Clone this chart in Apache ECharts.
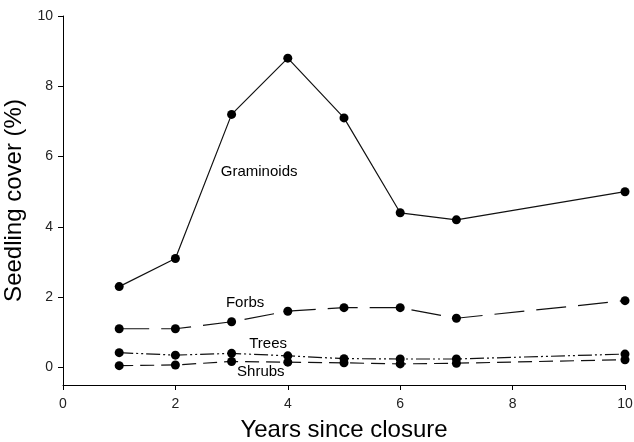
<!DOCTYPE html>
<html>
<head>
<meta charset="utf-8">
<script src="https://cdn.jsdelivr.net/npm/echarts@6/dist/echarts.min.js"></script>
<style>
  html, body { margin: 0; padding: 0; background: #fff; }
  #chart { width: 634px; height: 442px; }
</style>
</head>
<body>
<div id="chart"></div>
<script>
// Years since closure (sampling years)
const years = [1, 2, 3, 4, 5, 6, 7, 10];

// Seedling cover (%) by growth form
const graminoids = [2.3, 3.1, 7.2, 8.8, 7.1, 4.4, 4.2, 5.0];
const forbs      = [1.1, 1.1, 1.3, 1.6, 1.7, 1.7, 1.4, 1.9];
const trees      = [0.42, 0.35, 0.40, 0.33, 0.25, 0.24, 0.24, 0.38];
const shrubs     = [0.05, 0.07, 0.17, 0.15, 0.13, 0.10, 0.12, 0.22];

// Tick labels
const xTicks = [0, 2, 4, 6, 8, 10];
const yTicks = [0, 2, 4, 6, 8, 10];

// Inline series labels: [text, x, y] in data units
const seriesLabels = [
  ['Graminoids', 3.49, 5.56],
  ['Forbs', 3.24, 1.85],
  ['Trees', 3.65, 0.68],
  ['Shrubs', 3.52, -0.14]
];

const FONT = '"Liberation Sans", Arial, sans-serif';
const pair = arr => years.map((x, i) => [x, arr[i]]);

function lineSeries(name, values, dash) {
  return {
    name: name,
    type: 'line',
    data: pair(values),
    symbol: 'circle',
    symbolSize: 9,
    itemStyle: { color: '#000' },
    lineStyle: { color: '#111', width: 1.2, type: dash },
    emphasis: { disabled: true },
    animation: false,
    z: 3
  };
}

const chart = echarts.init(document.getElementById('chart'));
chart.setOption({
  animation: false,
  grid: { left: 63, right: 9, top: 16, bottom: 57, containLabel: false, outerBoundsMode: 'none' },
  xAxis: {
    type: 'value',
    min: 0, max: 10, interval: 2,
    name: 'Years since closure',
    nameLocation: 'middle',
    nameGap: 33,
    nameTextStyle: { fontFamily: FONT, fontSize: 24, color: '#000' },
    axisLine: { onZero: false, lineStyle: { color: '#000', width: 1 } },
    axisTick: { show: true, inside: false, length: 5, lineStyle: { color: '#000' }, customValues: xTicks },
    axisLabel: { fontFamily: FONT, fontSize: 14, color: '#222', margin: 12, customValues: xTicks },
    splitLine: { show: false }
  },
  yAxis: {
    type: 'value',
    min: -0.5, max: 10,
    name: 'Seedling cover (%)',
    nameLocation: 'middle',
    nameGap: 28,
    nameRotate: 90,
    nameTextStyle: { fontFamily: FONT, fontSize: 24, color: '#000' },
    axisLine: { show: true, onZero: false, lineStyle: { color: '#000', width: 1 } },
    axisTick: { show: true, inside: false, length: 5, lineStyle: { color: '#000' }, customValues: yTicks },
    axisLabel: { fontFamily: FONT, fontSize: 14, color: '#222', margin: 10, customValues: yTicks },
    splitLine: { show: false }
  },
  series: [
    lineSeries('Graminoids', graminoids, 'solid'),
    lineSeries('Forbs', forbs, [30, 12]),
    lineSeries('Trees', trees, [14, 3, 2, 3, 2, 3]),
    lineSeries('Shrubs', shrubs, [14, 7])
  ]
});

// Place the inline labels at their data positions
chart.setOption({
  graphic: seriesLabels.map(([text, x, y]) => {
    const p = chart.convertToPixel({ gridIndex: 0 }, [x, y]);
    return {
      type: 'text',
      x: p[0], y: p[1],
      style: {
        text: text,
        font: '15px ' + FONT,
        fill: '#000',
        align: 'center',
        verticalAlign: 'middle'
      },
      z: 10
    };
  })
});
</script>
</body>
</html>
